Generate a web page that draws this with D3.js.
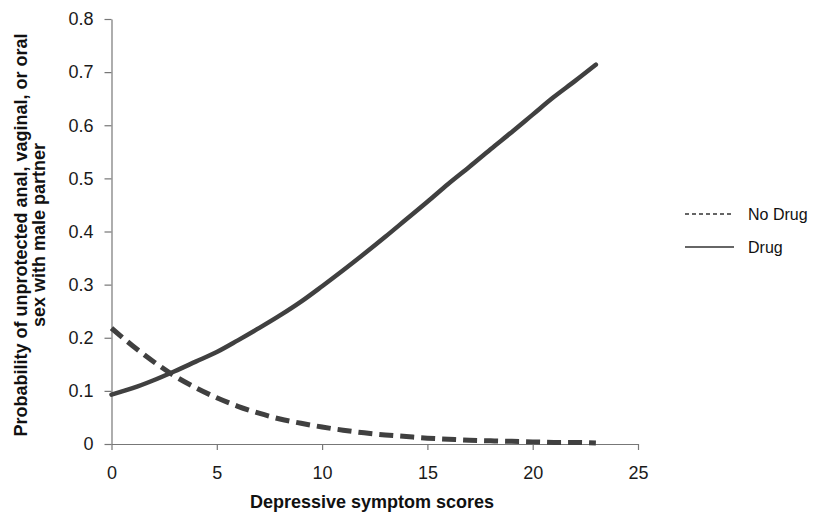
<!DOCTYPE html>
<html>
<head>
  <style>
    body { margin: 0; background: #fff; }
    text { font-family: "Liberation Sans", Arial, sans-serif; }
  </style>
</head>
<body>
  <div id="chart"></div>
  <script src="https://d3js.org/d3.v7.min.js"></script>
  <script>
    // Values
    const scores = [0, 1, 2, 3, 4, 5, 6, 7, 8, 9, 10, 11, 12, 13, 14, 15, 16, 17, 18, 19, 20, 21, 22, 23];
    const noDrug = [0.218, 0.185, 0.155, 0.128, 0.106, 0.087, 0.071, 0.058, 0.047, 0.039, 0.032, 0.026,
                    0.021, 0.017, 0.014, 0.011, 0.009, 0.007, 0.006, 0.005, 0.004, 0.003, 0.003, 0.002];
    const drug = [0.093, 0.105, 0.12, 0.137, 0.155, 0.173, 0.195, 0.218, 0.242, 0.268, 0.297, 0.327,
                  0.358, 0.39, 0.423, 0.456, 0.49, 0.522, 0.555, 0.587, 0.62, 0.653, 0.683, 0.714];
    const xTicks = [0, 5, 10, 15, 20, 25];
    const yTicks = [0, 0.1, 0.2, 0.3, 0.4, 0.5, 0.6, 0.7, 0.8];
    const seriesNames = ["No Drug", "Drug"];

    const width = 814, height = 517;
    const svg = d3.select("#chart")
      .append("svg")
      .attr("width", width)
      .attr("height", height);

    const x = d3.scaleLinear().domain([0, 25]).range([111.5, 638]);
    const y = d3.scaleLinear().domain([0, 0.8]).range([444, 19]);

    const axisColor = "#777";
    const lineColor = "#404040";

    // x axis
    const gx = svg.append("g")
      .attr("transform", `translate(0, ${y(0)})`)
      .call(d3.axisBottom(x).tickValues(xTicks).tickSize(6).tickPadding(16).tickSizeOuter(0));
    // y axis
    const gy = svg.append("g")
      .attr("transform", `translate(${x(0)}, 0)`)
      .call(d3.axisLeft(y).tickValues(yTicks).tickSize(7).tickPadding(11).tickSizeOuter(0)
        .tickFormat(d => d === 0 ? "0" : d3.format(".1f")(d)));

    [gx, gy].forEach(g => {
      g.select(".domain").attr("stroke", axisColor).attr("stroke-width", 1.2);
      g.selectAll(".tick line").attr("stroke", axisColor).attr("stroke-width", 1.2);
      g.selectAll(".tick text")
        .attr("fill", "#1a1a1a")
        .style("font-size", "18px")
        .style("font-family", "'Liberation Sans', Arial, sans-serif");
    });

    // axis titles
    svg.append("text")
      .attr("x", 372)
      .attr("y", 508)
      .attr("text-anchor", "middle")
      .style("font-size", "18px")
      .style("font-weight", "bold")
      .attr("fill", "#111")
      .text("Depressive symptom scores");

    const yTitle = svg.append("text")
      .attr("transform", "translate(0, 235) rotate(-90)")
      .attr("text-anchor", "middle")
      .style("font-size", "18px")
      .style("font-weight", "bold")
      .attr("fill", "#111");
    yTitle.append("tspan").attr("x", 0).attr("y", 27)
      .text("Probability of unprotected anal, vaginal, or oral");
    yTitle.append("tspan").attr("x", 0).attr("y", 45)
      .text("sex with male partner");

    // lines
    const line = d3.line()
      .x((d, i) => x(scores[i]))
      .y(d => y(d))
      .curve(d3.curveMonotoneX);

    svg.append("path")
      .datum(noDrug)
      .attr("fill", "none")
      .attr("stroke", lineColor)
      .attr("stroke-width", 5)
      .attr("stroke-dasharray", "14,7")
      .attr("d", line);

    svg.append("path")
      .datum(drug)
      .attr("fill", "none")
      .attr("stroke", lineColor)
      .attr("stroke-width", 4.5)
      .attr("stroke-linecap", "round")
      .attr("d", line);

    // legend
    const legend = svg.append("g");
    seriesNames.forEach((name, i) => {
      const ly = 214 + i * 33;
      legend.append("line")
        .attr("x1", 685).attr("x2", 734)
        .attr("y1", ly).attr("y2", ly)
        .attr("stroke", "#333")
        .attr("stroke-width", 1.3)
        .attr("stroke-dasharray", i === 0 ? "4,3" : null);
      legend.append("text")
        .attr("x", 748)
        .attr("y", ly + 6)
        .style("font-size", "16px")
        .attr("fill", "#111")
        .text(name);
    });
  </script>
</body>
</html>
